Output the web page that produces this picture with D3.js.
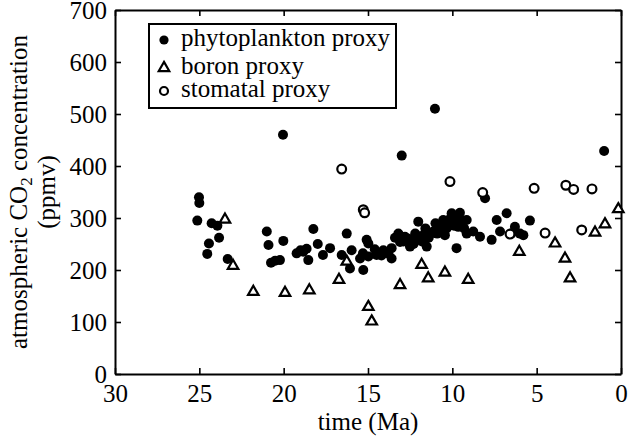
<!DOCTYPE html>
<html><head><meta charset="utf-8">
<script src="https://cdn.jsdelivr.net/npm/d3@7"></script>
<style>
html,body{margin:0;padding:0;background:#fff;}
svg text{font-family:"Liberation Serif","Times New Roman",serif;fill:#000;}
</style></head>
<body><svg id="chart" width="628" height="438"></svg>
<script>
// ---- data (time in Ma, CO2 in ppmv) ----
const phytoTime = [25.02,25.0,25.12,24.27,23.93,23.83,24.43,24.53,23.32,21.0,20.9,20.02,20.75,20.5,20.22,20.04,18.24,17.98,19.23,18.84,18.54,18.64,19.0,17.67,17.25,16.56,16.26,15.97,16.07,15.28,15.47,15.3,15.08,14.98,14.98,14.6,14.49,14.2,14.09,13.8,13.6,13.6,13.4,13.2,13.1,13.0,12.9,12.81,12.6,12.51,12.3,12.2,12.11,12.02,11.9,11.8,11.72,11.6,11.52,11.4,11.3,11.13,11.03,11.0,10.9,10.83,10.7,10.6,10.54,10.44,10.34,10.2,10.1,10.04,9.95,9.9,9.8,9.75,9.65,9.55,9.4,9.3,9.15,9.15,8.76,8.36,8.06,7.67,7.37,7.17,6.78,6.5,6.29,5.99,5.79,5.4,1.0];
const phytoCO2 = [340,329,295,290,285,262,251,231,221,274,248,256,214,218,219,460,279,250,232,235,219,241,238,229,242,229,270,238,203,200,222,232,258,251,226,240,229,228,238,232,222,242,262,270,254,420,255,264,260,245,250,270,258,293,262,255,267,280,245,262,270,274,510,290,270,283,285,275,296,267,280,290,300,309,303,285,300,242,283,310,295,280,296,270,274,264,338,258,296,274,309,270,283,270,267,295,429];
const boronTime = [23.48,23.0,21.8,19.92,18.48,16.72,16.26,14.98,14.78,13.1,11.82,11.43,10.44,9.06,6.03,3.91,3.32,3.02,1.54,0.95,0.16];
const boronCO2 = [297,208,158,156,161,181,216,129,101,171,210,184,195,181,235,251,222,184,272,288,317];
const stomTime = [16.56,15.28,15.2,10.14,8.2,6.58,5.15,4.5,3.27,2.81,2.33,1.72];
const stomCO2 = [394,316,310,370,349,269,357,271,363,355,277,356];
const xTicks = [30,25,20,15,10,5,0];
const yTicks = [0,100,200,300,400,500,600,700];
const legendLabels = ["phytoplankton proxy","boron proxy","stomatal proxy"];

const svg = d3.select("#chart");
const L=115, R=621, T=10, B=374;
const x = d3.scaleLinear().domain([30,0]).range([L,R]);
const y = d3.scaleLinear().domain([0,700]).range([B,T]);
const fs = 25;
const FF = "Liberation Serif, Times New Roman, serif";

const axB = d3.axisBottom(x).tickValues(xTicks).tickSizeInner(-6).tickSizeOuter(0).tickPadding(10);
const axT = d3.axisTop(x).tickValues(xTicks).tickSizeInner(-6).tickSizeOuter(0).tickFormat("");
const axLf = d3.axisLeft(y).tickValues(yTicks).tickSizeInner(-6).tickSizeOuter(0).tickPadding(8);
const axRt = d3.axisRight(y).tickValues(yTicks).tickSizeInner(-6).tickSizeOuter(0).tickFormat("");
function style(g){
  g.selectAll("path").attr("stroke","#000").attr("stroke-width",2);
  g.selectAll("line").attr("stroke","#000").attr("stroke-width",1.6);
  g.selectAll("text").attr("font-size",fs).attr("font-family",FF).attr("fill","#000");
}
svg.append("g").attr("transform",`translate(0,${B})`).call(axB).call(style);
svg.append("g").attr("transform",`translate(0,${T})`).call(axT).call(style);
svg.append("g").attr("transform",`translate(${L},0)`).call(axLf).call(style);
svg.append("g").attr("transform",`translate(${R},0)`).call(axRt).call(style);

// data marks
const tri = d3.symbol().type(d3.symbolTriangle).size(48);
const phyto = phytoTime.map((t,i)=>({t,v:phytoCO2[i]}));
const boron = boronTime.map((t,i)=>({t,v:boronCO2[i]}));
const stom = stomTime.map((t,i)=>({t,v:stomCO2[i]}));
svg.append("g").selectAll("circle").data(phyto).join("circle")
  .attr("cx",d=>x(d.t)).attr("cy",d=>y(d.v)).attr("r",5).attr("fill","#000");
svg.append("g").selectAll("path").data(boron).join("path")
  .attr("d",tri).attr("transform",d=>`translate(${x(d.t)},${y(d.v)})`)
  .attr("fill","#fff").attr("stroke","#000").attr("stroke-width",2.2);
svg.append("g").selectAll("circle").data(stom).join("circle")
  .attr("cx",d=>x(d.t)).attr("cy",d=>y(d.v)).attr("r",4.4).attr("fill","#fff")
  .attr("stroke","#000").attr("stroke-width",2.2);

// legend
svg.append("rect").attr("x",149).attr("y",24).attr("width",247).attr("height",84)
  .attr("fill","#fff").attr("stroke","#000").attr("stroke-width",2);
const rowsY=[40,68,91];
svg.append("circle").attr("cx",164).attr("cy",rowsY[0]).attr("r",4.6).attr("fill","#000");
svg.append("path").attr("d",tri).attr("transform",`translate(164,${rowsY[1]})`).attr("fill","#fff").attr("stroke","#000").attr("stroke-width",2.2);
svg.append("circle").attr("cx",164).attr("cy",rowsY[2]).attr("r",4).attr("fill","#fff").attr("stroke","#000").attr("stroke-width",2.2);
legendLabels.forEach((s,i)=>{
  svg.append("text").attr("x",181).attr("y",rowsY[i]+6).attr("font-size",fs).attr("font-family",FF).text(s);
});

// axis titles
svg.append("text").attr("x",(L+R)/2).attr("y",430).attr("text-anchor","middle").attr("font-size",fs).attr("font-family",FF).text("time (Ma)");
const yt = svg.append("text").attr("transform",`translate(27,${(T+B)/2}) rotate(-90)`).attr("text-anchor","middle").attr("font-size",fs).attr("font-family",FF);
yt.append("tspan").text("atmospheric CO");
yt.append("tspan").attr("font-size",17).attr("dy",5).text("2");
yt.append("tspan").attr("dy",-5).text(" concentration");
svg.append("text").attr("transform",`translate(55,${(T+B)/2}) rotate(-90)`).attr("text-anchor","middle").attr("font-size",fs).attr("font-family",FF).text("(ppmv)");
</script></body></html>
